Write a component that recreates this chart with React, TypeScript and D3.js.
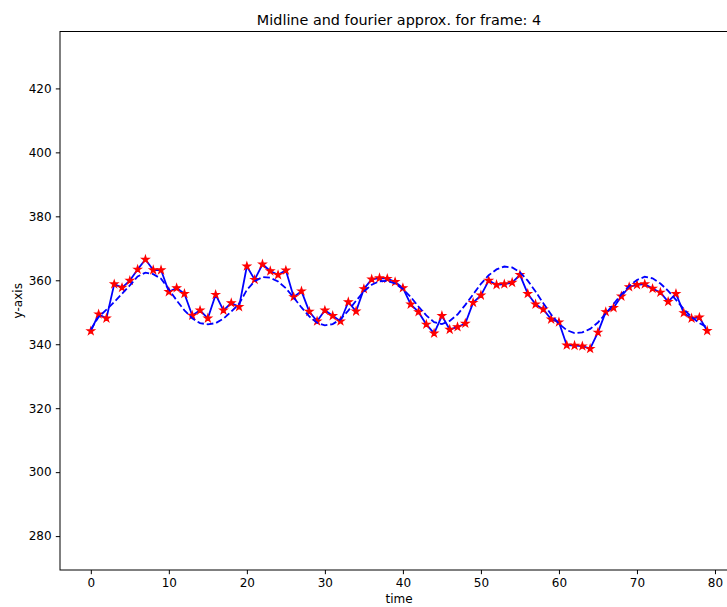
import React, { useEffect, useRef } from "react";
import * as d3 from "d3";

// midline samples, one per time step
const midline: number[] = [
  344.1, 349.4, 348.1, 358.8, 357.7, 359.9, 363.4, 366.5, 363.2, 363.2,
  356.4, 357.6, 355.8, 349.0, 350.6, 348.1, 355.5, 350.6, 352.9, 351.7,
  364.4, 360.2, 365.0, 362.9, 361.7, 363.1, 354.8, 356.6, 350.2, 347.2,
  350.6, 348.9, 347.2, 353.2, 350.3, 357.3, 360.3, 360.7, 360.5, 359.5,
  357.6, 352.5, 350.1, 346.2, 343.4, 348.9, 344.6, 345.4, 346.5, 353.0,
  355.3, 359.9, 358.6, 358.8, 359.3, 361.7, 355.8, 352.5, 350.9, 347.8,
  346.9, 339.7, 339.6, 339.4, 338.6, 343.7, 350.1, 351.4, 355.0, 357.9,
  358.6, 358.8, 357.4, 356.2, 353.3, 355.8, 349.8, 348.1, 348.4, 344.2,
];

// fourier approximation of the midline
const fourier: number[] = [
  344.6, 348.5, 350.8, 353.2, 355.8, 358.4, 361.2, 362.4, 361.9, 360.5,
  357.2, 353.7, 350.6, 348.1, 346.6, 346.2, 346.6, 348.0, 350.2, 352.6,
  357.0, 359.7, 361.0, 360.8, 359.6, 357.5, 354.6, 351.5, 348.7, 346.7,
  345.9, 346.3, 347.8, 350.5, 353.6, 356.5, 358.6, 359.7, 359.8, 359.0,
  357.3, 354.8, 351.8, 349.0, 346.9, 346.3, 347.3, 349.3, 352.3, 355.6,
  358.9, 361.6, 363.4, 364.3, 364.0, 362.5, 359.9, 356.5, 352.8, 349.3,
  346.4, 344.4, 343.5, 343.7, 344.8, 346.8, 349.6, 352.6, 355.6, 358.2,
  360.1, 361.1, 360.6, 359.0, 356.7, 353.9, 351.0, 348.5, 346.6, 345.3,
];

const xTicks = [0, 10, 20, 30, 40, 50, 60, 70, 80];
const yTicks = [280, 300, 320, 340, 360, 380, 400, 420];

export default function App() {
  const ref = useRef<SVGSVGElement>(null);

  useEffect(() => {
    document.body.style.margin = "0";
    const svg = d3.select(ref.current);
    svg.selectAll("*").remove();

    const margin = { left: 60, top: 31.5, right: 738, bottom: 570 };
    const n = midline.length;
    const pad = (n - 1) * 0.05;
    const x = d3.scaleLinear().domain([-pad, n - 1 + pad]).range([margin.left, margin.right]);
    const y = d3.scaleLinear().domain([269.4, 437.8]).range([margin.bottom, margin.top]);
    const font = "DejaVu Sans, sans-serif";

    const g = svg.append("g");

    // x axis
    const xa = g.append("g").attr("transform", `translate(0,${margin.bottom})`)
      .call(d3.axisBottom(x).tickValues(xTicks).tickSize(4.2).tickPadding(4.2).tickFormat(d3.format("d")));
    xa.select(".domain").remove();
    xa.selectAll("line").attr("stroke", "#000").attr("stroke-width", 1);
    xa.selectAll("text").attr("font-family", font).attr("font-size", 12).attr("fill", "#000");

    // y axis
    const ya = g.append("g").attr("transform", `translate(${margin.left},0)`)
      .call(d3.axisLeft(y).tickValues(yTicks).tickSize(4.2).tickPadding(4.2).tickFormat(d3.format("d")));
    ya.select(".domain").remove();
    ya.selectAll("line").attr("stroke", "#000").attr("stroke-width", 1);
    ya.selectAll("text").attr("font-family", font).attr("font-size", 12).attr("fill", "#000");

    // frame
    g.append("rect")
      .attr("x", margin.left).attr("y", margin.top)
      .attr("width", margin.right - margin.left).attr("height", margin.bottom - margin.top)
      .attr("fill", "none").attr("stroke", "#000").attr("stroke-width", 1);

    const plot = g.append("g");

    const line = d3.line<number>().x((d, i) => x(i)).y(d => y(d));

    plot.append("path").datum(midline).attr("d", line)
      .attr("fill", "none").attr("stroke", "#0000ff").attr("stroke-width", 1.8)
      .attr("stroke-linejoin", "round");

    const star = d3.symbol().type(d3.symbolStar).size(16);
    plot.selectAll(".pt").data(midline).join("path")
      .attr("class", "pt")
      .attr("transform", (d, i) => `translate(${x(i)},${y(d)})`)
      .attr("d", star)
      .attr("fill", "#ff0000").attr("stroke", "#ff0000").attr("stroke-width", 1.2);

    plot.append("path").datum(fourier).attr("d", line)
      .attr("fill", "none").attr("stroke", "#0000ff").attr("stroke-width", 1.8)
      .attr("stroke-dasharray", "6.7,2.9");

    // title and labels
    svg.append("text").attr("x", (margin.left + margin.right) / 2).attr("y", 24.5)
      .attr("text-anchor", "middle").attr("font-family", font).attr("font-size", 14.4)
      .text("Midline and fourier approx. for frame: 4");

    svg.append("text").attr("x", (margin.left + margin.right) / 2).attr("y", 603)
      .attr("text-anchor", "middle").attr("font-family", font).attr("font-size", 12)
      .text("time");

    svg.append("text").attr("transform", `translate(22,${(margin.top + margin.bottom) / 2}) rotate(-90)`)
      .attr("text-anchor", "middle").attr("font-family", font).attr("font-size", 12)
      .text("y-axis");
  }, []);

  return <svg ref={ref} width={727} height={607} style={{ display: "block", background: "#fff" }} />;
}
